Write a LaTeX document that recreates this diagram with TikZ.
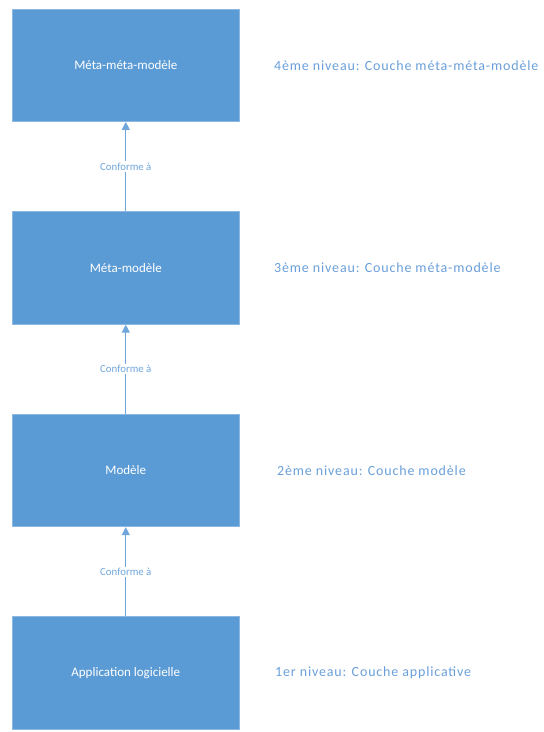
\documentclass[tikz,border=0pt]{standalone}
\usepackage{fontspec}
\setmainfont{Carlito}
\newfontfamily\captionfont[LetterSpace=6]{Carlito}
\usetikzlibrary{arrows.meta}
\definecolor{boxblue}{HTML}{5B9BD5}
\definecolor{boxedge}{HTML}{8DB8E2}
\definecolor{linkblue}{HTML}{6FA6DB}
\definecolor{labelblue}{HTML}{6A9FD9}
\begin{document}
\begin{tikzpicture}[x=1pt,y=1pt,
  layerbox/.style={draw=boxedge,line width=0.8pt,fill=boxblue,minimum width=227pt,
    minimum height=112.5pt,inner sep=0pt,text=white,font=\fontsize{13}{15}\selectfont},
  layerlabel/.style={anchor=west,inner sep=0pt,text=labelblue,font=\captionfont\fontsize{14}{16}\selectfont},
  conform/.style={draw=linkblue,line width=1pt,-{Triangle[width=8pt,length=8pt]}},
  conformtext/.style={fill=white,inner sep=1.5pt,text=linkblue,font=\fontsize{10.8}{12}\selectfont}]
\useasboundingbox (0,0) rectangle (544,-732);
% the four stacked layers
\node[layerbox] (m3) at (125.8,-65.3)  {Méta-méta-modèle};
\node[layerbox] (m2) at (125.8,-268.0) {Méta-modèle};
\node[layerbox] (m1) at (125.8,-470.5) {Modèle};
\node[layerbox] (m0) at (125.8,-673.0) {Application logicielle};
% conformance links
\draw[conform] (m2.north) -- node[conformtext] {Conforme à} (m3.south);
\draw[conform] (m1.north) -- node[conformtext] {Conforme à} (m2.south);
\draw[conform] (m0.north) -- node[conformtext] {Conforme à} (m1.south);
% level captions
\node[layerlabel] (l3) at (274,-65.3)  {4ème niveau: Couche méta-méta-modèle};
\node[layerlabel] (l2) at (274,-268.0) {3ème niveau: Couche méta-modèle};
\node[layerlabel] (l1) at (277,-470.5) {2ème niveau: Couche modèle};
\node[layerlabel] (l0) at (275,-673.0) {1er niveau: Couche applicative};
\end{tikzpicture}
\end{document}
